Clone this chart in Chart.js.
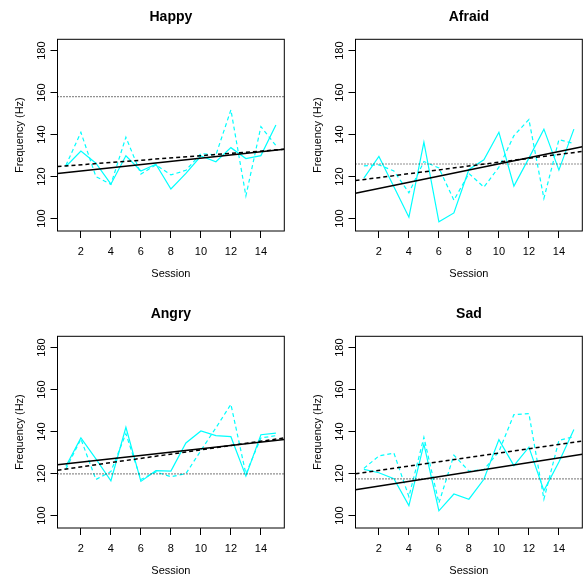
<!DOCTYPE html>
<html>
<head>
<meta charset="utf-8">
<script src="https://cdn.jsdelivr.net/npm/chart.js@4.4.1/dist/chart.umd.min.js"></script>
<style>
  html, body { margin: 0; padding: 0; background: #fff; overflow: hidden; }
  #wrap { position: relative; width: 587px; height: 581px; }
  canvas { position: absolute; }
</style>
</head>
<body>
<div id="wrap">
  <canvas id="happy" width="289" height="290" style="left:0;top:0"></canvas>
  <canvas id="afraid" width="289" height="290" style="left:298px;top:0"></canvas>
  <canvas id="angry" width="289" height="290" style="left:0;top:297px"></canvas>
  <canvas id="sad" width="289" height="290" style="left:298px;top:297px"></canvas>
</div>
<script>
// Chart data
const sessions = [1, 2, 3, 4, 5, 6, 7, 8, 9, 10, 11, 12, 13, 14, 15];
const xTicks = [2, 4, 6, 8, 10, 12, 14];
const yTicks = [100, 120, 140, 160, 180];
const xRange = [0.44, 15.56];
const yRange = [94.1, 185.4];

const happySolid = [124.8, 132.2, 126.4, 116.4, 129.9, 122.7, 125.9, 114.1, 121.5, 129.8, 127.1, 133.8, 128.6, 130.0, 144.6];
const happyDashed = [125.3, 141.1, 120.0, 116.3, 138.8, 121.2, 125.6, 120.8, 123.0, 131.0, 130.3, 151.8, 110.8, 143.8, 134.8];
const happyFitSolid = [121.5, 133.0];
const happyFitDashed = [124.8, 133.0];
const happyRef = 158.1;

const afraidSolid = [119.3, 129.6, 115.2, 100.7, 136.4, 98.5, 102.7, 123.4, 128.0, 141.1, 115.5, 128.8, 142.6, 123.1, 142.6];
const afraidDashed = [125.1, 125.6, 122.7, 112.3, 127.2, 124.1, 108.8, 121.5, 115.0, 124.5, 139.5, 147.2, 109.6, 137.6, 135.8];
const afraidFitSolid = [112.1, 134.2];
const afraidFitDashed = [118.1, 132.0];
const afraidRef = 126.0;

const angrySolid = [123.5, 137.0, 127.0, 116.6, 142.1, 116.3, 121.4, 121.2, 134.6, 140.3, 138.1, 137.6, 118.8, 138.5, 139.3];
const angryDashed = [122.2, 136.5, 117.2, 121.0, 139.0, 117.2, 120.8, 118.5, 120.0, 131.0, 141.8, 153.0, 119.8, 137.0, 138.1];
const angryFitSolid = [124.2, 136.2];
const angryFitDashed = [121.6, 137.0];
const angryRef = 119.9;

const sadSolid = [122.0, 120.4, 117.6, 104.8, 134.0, 102.3, 110.3, 107.8, 117.3, 136.2, 123.8, 132.6, 111.9, 125.5, 141.0];
const sadDashed = [122.5, 128.4, 129.8, 109.0, 137.3, 106.0, 128.8, 121.2, 121.9, 130.5, 148.1, 148.6, 107.8, 135.8, 137.6];
const sadFitSolid = [112.3, 129.2];
const sadFitDashed = [119.9, 135.5];
const sadRef = 117.5;

const FONT = '"Liberation Sans", Arial, Helvetica, sans-serif';
const CYAN = '#00ffff';

// box, main title and rotated y tick labels (R style)
const panelDecor = {
  id: 'panelDecor',
  afterDraw(chart, args, opts) {
    const { ctx, chartArea: a } = chart;
    const ys = chart.scales.y;
    ctx.save();
    ctx.strokeStyle = '#000';
    ctx.lineWidth = 1;
    ctx.strokeRect(a.left, a.top, a.right - a.left, a.bottom - a.top);
    ctx.fillStyle = '#000';
    ctx.textAlign = 'center';
    ctx.textBaseline = 'middle';
    ctx.font = 'bold 14px ' + FONT;
    ctx.fillText(opts.title, (a.left + a.right) / 2, 17.3);
    ctx.font = '11px ' + FONT;
    yTicks.forEach(v => {
      ctx.save();
      ctx.translate(42.3, ys.getPixelForValue(v));
      ctx.rotate(-Math.PI / 2);
      ctx.fillText(String(v), 0, 0);
      ctx.restore();
    });
    ctx.restore();
  }
};

function points(vals) {
  return sessions.map((s, i) => ({ x: s, y: vals[i] }));
}

function ends(vals) {
  return xRange.map((x, i) => ({ x: x, y: vals[i] }));
}

function makePanel(id, title, solid, dashed, fitSolid, fitDashed, ref) {
  const ctx = document.getElementById(id).getContext('2d');
  return new Chart(ctx, {
    type: 'line',
    data: {
      datasets: [
        { data: ends(fitSolid), borderColor: '#000', borderWidth: 1.5 },
        { data: ends(fitDashed), borderColor: '#000', borderWidth: 1.5, borderDash: [4, 3] },
        { data: ends([ref, ref]), borderColor: '#222', borderWidth: 1.2, borderDash: [1, 2] },
        { data: points(solid), borderColor: CYAN, borderWidth: 1.2 },
        { data: points(dashed), borderColor: CYAN, borderWidth: 1.2, borderDash: [4, 3] }
      ]
    },
    options: {
      responsive: false,
      animation: false,
      events: [],
      layout: { padding: { left: 0, right: 4.7, top: 39.3, bottom: 0 } },
      elements: {
        point: { radius: 0 },
        line: { tension: 0, fill: false }
      },
      plugins: {
        legend: { display: false },
        tooltip: { enabled: false },
        panelDecor: { title: title }
      },
      scales: {
        x: {
          type: 'linear',
          min: xRange[0],
          max: xRange[1],
          afterBuildTicks: s => { s.ticks = xTicks.map(v => ({ value: v })); },
          afterFit: s => { s.height = 59; },
          border: { display: false },
          grid: { drawOnChartArea: false, drawTicks: true, tickLength: 7, color: '#000' },
          ticks: { color: '#000', font: { family: FONT, size: 11 }, padding: 7, maxRotation: 0, autoSkip: false },
          title: { display: true, text: 'Session', color: '#000', font: { family: FONT, size: 11 }, padding: { top: 0, bottom: 9.1 } }
        },
        y: {
          type: 'linear',
          min: yRange[0],
          max: yRange[1],
          afterBuildTicks: s => { s.ticks = yTicks.map(v => ({ value: v })); },
          afterFit: s => { s.width = 57.5; },
          border: { display: false },
          grid: { drawOnChartArea: false, drawTicks: true, tickLength: 7, color: '#000' },
          ticks: { display: false },
          title: { display: true, text: 'Frequency (Hz)', color: '#000', font: { family: FONT, size: 11 }, padding: { top: 13.4, bottom: 0 } }
        }
      }
    },
    plugins: [panelDecor]
  });
}

makePanel('happy', 'Happy', happySolid, happyDashed, happyFitSolid, happyFitDashed, happyRef);
makePanel('afraid', 'Afraid', afraidSolid, afraidDashed, afraidFitSolid, afraidFitDashed, afraidRef);
makePanel('angry', 'Angry', angrySolid, angryDashed, angryFitSolid, angryFitDashed, angryRef);
makePanel('sad', 'Sad', sadSolid, sadDashed, sadFitSolid, sadFitDashed, sadRef);
</script>
</body>
</html>
